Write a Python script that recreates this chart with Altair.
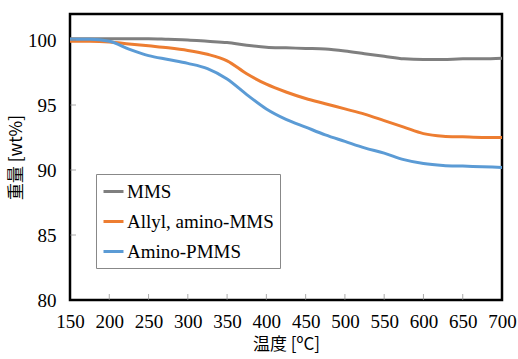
import altair as alt
import pandas as pd

temps = [150, 175, 200, 225, 250, 275, 300, 325, 350, 375, 400, 425, 450,
         475, 500, 525, 550, 575, 600, 625, 650, 675, 700]
mms = [100.1, 100.1, 100.1, 100.1, 100.1, 100.05, 100.0, 99.9, 99.8, 99.6,
       99.45, 99.4, 99.35, 99.3, 99.15, 98.95, 98.75, 98.55, 98.5, 98.5,
       98.55, 98.55, 98.6]
allyl = [99.9, 99.9, 99.85, 99.7, 99.55, 99.4, 99.2, 98.9, 98.4, 97.4,
         96.6, 96.0, 95.5, 95.1, 94.7, 94.3, 93.8, 93.3, 92.8, 92.6,
         92.55, 92.5, 92.5]
amino = [100.05, 100.05, 99.9, 99.3, 98.8, 98.5, 98.2, 97.8, 97.0, 95.8,
         94.7, 93.9, 93.3, 92.7, 92.2, 91.7, 91.3, 90.8, 90.5, 90.35,
         90.3, 90.25, 90.2]
series_names = ["MMS", "Allyl, amino-MMS", "Amino-PMMS"]
series_colors = ["#7f7f7f", "#ED7D31", "#5B9BD5"]
x_ticks = [150, 200, 250, 300, 350, 400, 450, 500, 550, 600, 650, 700]
y_ticks = [80, 85, 90, 95, 100]

rows = []
for name, vals in zip(series_names, [mms, allyl, amino]):
    for t, v in zip(temps, vals):
        rows.append({"T": t, "W": v, "series": name})
df = pd.DataFrame(rows)

xt = pd.DataFrame({"T": x_ticks[1:-1]})
yt = pd.DataFrame({"W": y_ticks[1:]})

serif = "Liberation Serif"
cjk = "Noto Sans CJK JP"
xscale = alt.Scale(domain=[150, 700], nice=False, zero=False)
yscale = alt.Scale(domain=[80, 102], nice=False, zero=False)

xaxis = alt.Axis(values=x_ticks, title="温度 [ºC]", ticks=False,
                 domain=False, grid=False, labelPadding=12,
                 labelOverlap=False, labelFlush=False,
                 labelFont=serif, labelFontSize=19, labelColor="black",
                 titleFont=cjk, titleFontSize=17,
                 titleFontWeight="normal", titleColor="black",
                 titlePadding=5)
yaxis = alt.Axis(values=y_ticks, title="重量 [wt%]", ticks=False,
                 domain=False, grid=False, labelPadding=14,
                 labelOverlap=False, labelFlush=False,
                 labelFont=serif, labelFontSize=19, labelColor="black",
                 titleFont=cjk, titleFontSize=17,
                 titleFontWeight="normal", titleColor="black",
                 titlePadding=2)

lines = alt.Chart(df).mark_line(strokeWidth=3, interpolate="monotone").encode(
    x=alt.X("T:Q", scale=xscale, axis=xaxis),
    y=alt.Y("W:Q", scale=yscale, axis=yaxis),
    color=alt.Color("series:N",
                    scale=alt.Scale(domain=series_names, range=series_colors),
                    sort=series_names,
                    legend=alt.Legend(title=None, orient="none",
                                      legendX=26, legendY=160,
                                      symbolType="stroke", symbolSize=400,
                                      symbolStrokeWidth=3,
                                      labelFont=serif,
                                      labelFontSize=19, labelColor="black",
                                      labelOffset=2, rowPadding=8,
                                      padding=6, strokeColor="#888888",
                                      fillColor="white", labelLimit=300)),
)

xticks = alt.Chart(xt).mark_tick(color="#888888", thickness=1, size=6,
                                 orient="vertical").encode(
    x=alt.X("T:Q", scale=xscale, axis=xaxis), y=alt.value(283))
yticks = alt.Chart(yt).mark_tick(color="#888888", thickness=1, size=6,
                                 orient="horizontal").encode(
    y=alt.Y("W:Q", scale=yscale, axis=yaxis), x=alt.value(3))

chart = alt.layer(lines, xticks, yticks).properties(
    width=432, height=286,
    background="white",
    autosize=alt.AutoSizeParams(type="none"),
    padding={"left": 70, "top": 14, "right": 16, "bottom": 59},
).configure_view(stroke="black", strokeWidth=2.5)

chart.save("out.html", embed_options={"renderer": "svg", "actions": False})
